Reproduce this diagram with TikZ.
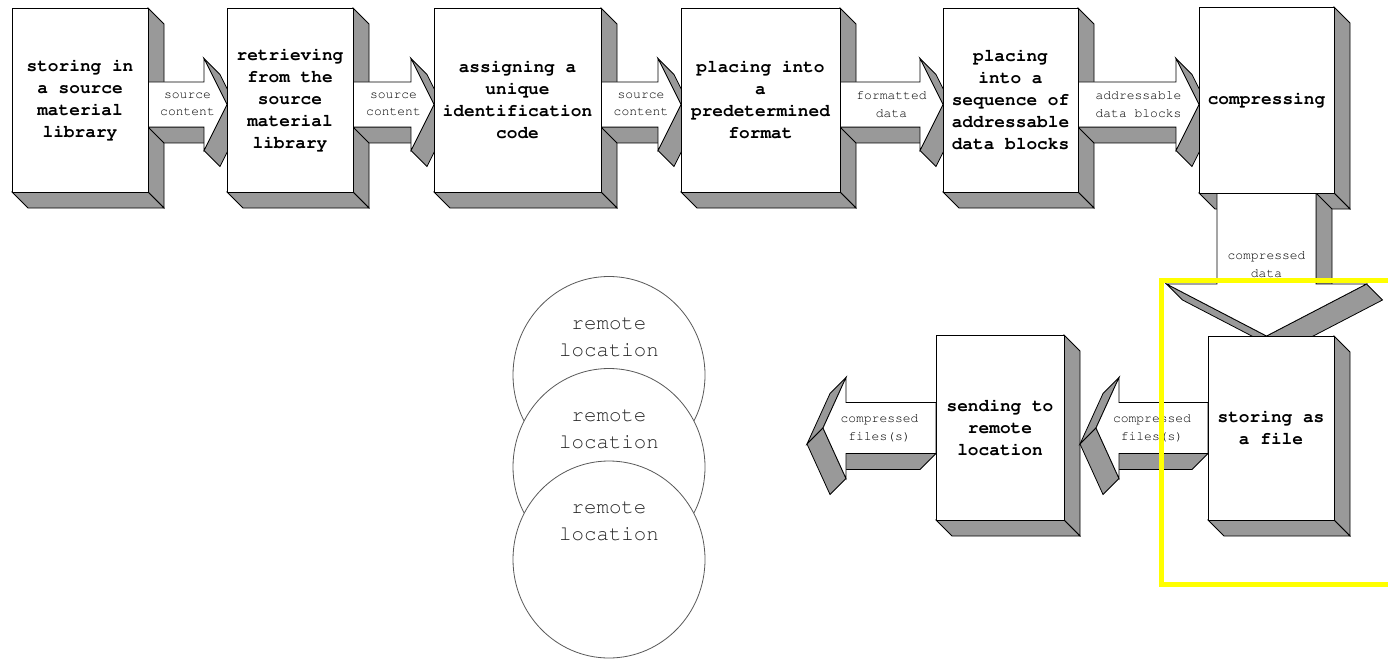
\documentclass[tikz,border=0pt]{standalone}
\usepackage[T1]{fontenc}
\usepackage{courier}
\usetikzlibrary{calc,shapes.geometric}
\definecolor{shd}{RGB}{153,153,153}
\definecolor{ylw}{RGB}{255,255,0}
\pgfdeclarelayer{sides}
\pgfdeclarelayer{arrows}
\pgfsetlayers{sides,arrows,main}
\tikzset{
  face/.style={fill=shd,draw=black,line width=0.8pt,line join=miter},
  front/.style={fill=white,draw=black,line width=0.8pt},
  blk/.style={front,outer sep=0pt,inner sep=2pt,align=center,
    font=\fontsize{17.8}{22}\selectfont\ttfamily\bfseries},
  lbl/.style={align=center,inner sep=0pt,
    font=\fontsize{13}{17.5}\selectfont\ttfamily},
  rloc/.style={draw=black!65,fill=white,line width=0.8pt,ellipse,
    minimum width=192,minimum height=197,inner sep=0pt,outer sep=0pt},
  rtxt/.style={align=center,inner sep=0pt,text=black!85,
    font=\fontsize{20.8}{27}\selectfont\ttfamily},
}
% block with 3D shading: name, cx, cy, w, h, text
\newcommand\blkbox[6]{%
  \node[blk,minimum width=#4,minimum height=#5] (#1) at (#2,#3) {#6};
  \begin{pgfonlayer}{sides}
  \path[face] (#1.north east) -- ++(16,16) -- ($(#1.south east)+(16,16)$) -- (#1.south east) -- cycle;
  \path[face] (#1.south west) -- (#1.south east) -- ++(16,16) -- ($(#1.south west)+(16,16)$) -- cycle;
  \end{pgfonlayer}
}
% right 3D arrow: from node, to node, level coordinate, name, label
\newcommand\rarw[5]{%
  \coordinate (#4s) at (#1.east |- #3);
  \coordinate (#4t) at (#2.west |- #3);
  \coordinate (#4h) at ($(#4t)+(-23,0)$);
  \begin{pgfonlayer}{arrows}
  \path[face] ($(#4s)+(0,\bh)$) -- ($(#4h)+(0,\bh)$) -- ($(#4h)+(16,\bh+16)$) -- ($(#4s)+(16,\bh+16)$) -- cycle;
  \path[face] ($(#4h)+(0,-\hh)$) -- (#4t) -- ($(#4t)+(16,16)$) -- ($(#4h)+(16,-\hh+16)$) -- cycle;
  \path[face] (#4t) -- ($(#4h)+(0,\hh)$) -- ($(#4h)+(16,\hh+16)$) -- ($(#4t)+(16,16)$) -- cycle;
  \path[front] ($(#4s)+(0,-\bh)$) -- ($(#4h)+(0,-\bh)$) -- ($(#4h)+(0,-\hh)$) -- (#4t)
     -- ($(#4h)+(0,\hh)$) -- ($(#4h)+(0,\bh)$) -- ($(#4s)+(0,\bh)$) -- cycle;
  \node[lbl] (#4l) at ($(#4s)!0.5!(#4t)$) {#5};
  \end{pgfonlayer}
}
% left 3D arrow (mirrored): from node, tip coordinate, name, label
\newcommand\larw[4]{%
  \coordinate (#3s) at (#1.west |- #2);
  \coordinate (#3t) at (#2);
  \coordinate (#3h) at ($(#3t)+(23,0)$);
  \begin{pgfonlayer}{arrows}
  \path[face] ($(#3s)+(0,\bh)$) -- ($(#3h)+(0,\bh)$) -- ($(#3h)+(-16,\bh+16)$) -- ($(#3s)+(-16,\bh+16)$) -- cycle;
  \path[face] ($(#3h)+(0,-\hh)$) -- (#3t) -- ($(#3t)+(-16,16)$) -- ($(#3h)+(-16,-\hh+16)$) -- cycle;
  \path[face] (#3t) -- ($(#3h)+(0,\hh)$) -- ($(#3h)+(-16,\hh+16)$) -- ($(#3t)+(-16,16)$) -- cycle;
  \path[front] ($(#3s)+(0,-\bh)$) -- ($(#3h)+(0,-\bh)$) -- ($(#3h)+(0,-\hh)$) -- (#3t)
     -- ($(#3h)+(0,\hh)$) -- ($(#3h)+(0,\bh)$) -- ($(#3s)+(0,\bh)$) -- cycle;
  \node[lbl] (#3l) at ($(#3s)!0.5!(#3t)$) {#4};
  \end{pgfonlayer}
}
\begin{document}
\begin{tikzpicture}[x=1pt,y=-1pt]
\begin{pgfonlayer}{sides}
\fill[white] (0,0) rectangle (1388,663);
\end{pgfonlayer}
\useasboundingbox (0,0) rectangle (1388,663);
\coordinate (rowA) at (0,104.5);
\def\bh{22.5}\def\hh{46}
% top row blocks
\blkbox{b1}{80}{100}{136}{184}{storing in\\a source\\material\\library}
\blkbox{b2}{290}{100}{126}{184}{retrieving\\from the\\source\\material\\library}
\blkbox{b3}{517.5}{100}{167}{184}{assigning a\\unique\\identification\\code}
\blkbox{b4}{760.5}{100}{159}{184}{placing into\\a\\predetermined\\format}
\blkbox{b5}{1010.5}{100}{135}{184}{placing\\into a\\sequence of\\addressable\\data blocks}
\blkbox{b6}{1266.5}{100}{135}{186}{compressing}
% top row arrows
\rarw{b1}{b2}{rowA}{a1}{source\\content}
\rarw{b2}{b3}{rowA}{a2}{source\\content}
\rarw{b3}{b4}{rowA}{a3}{source\\content}
\rarw{b4}{b5}{rowA}{a4}{formatted\\data}
\rarw{b5}{b6}{rowA}{a5}{addressable\\data blocks}
% lower row blocks
\blkbox{stor}{1271}{428}{126}{184}{storing as\\a file}
\blkbox{send}{1000}{427.5}{128}{185}{sending to\\remote\\location}
% down arrow from compressing to storing
\coordinate (ds) at (b6.south);
\coordinate (dt) at (b6.south |- stor.north);
\coordinate (dh) at ($(dt)+(0,-52)$);
\begin{pgfonlayer}{arrows}
\path[face] ($(ds)+(49.5,0)$) -- ($(dh)+(49.5,0)$) -- ($(dh)+(65.5,16)$) -- ($(ds)+(65.5,16)$) -- cycle;
\path[face] ($(dh)+(100,0)$) -- (dt) -- ($(dt)+(16,16)$) -- ($(dh)+(116,16)$) -- cycle;
\path[face] ($(dh)+(-100,0)$) -- (dt) -- ($(dt)+(16,16)$) -- ($(dh)+(-84,16)$) -- cycle;
\path[front] ($(ds)+(-49.5,0)$) -- ($(dh)+(-49.5,0)$) -- ($(dh)+(-100,0)$) -- (dt)
   -- ($(dh)+(100,0)$) -- ($(dh)+(49.5,0)$) -- ($(ds)+(49.5,0)$) -- cycle;
\node[lbl] (dl) at ($(ds)!0.5!(dt)$) {compressed\\data};
\end{pgfonlayer}
% lower row arrows
\def\bh{25.5}\def\hh{50.5}
\coordinate (tipA) at (1096,428);
\coordinate (tipB) at (823,428);
\larw{stor}{tipA}{a6}{compressed\\files(s)}
\larw{send}{tipB}{a7}{compressed\\files(s)}
% remote locations
\node[rloc] (c1) at (609,375) {};
\node[rtxt] (t1) at ([yshift=38pt]c1.center) {remote\\location};
\node[rloc] (c2) at (609,467) {};
\node[rtxt] (t2) at ([yshift=38pt]c2.center) {remote\\location};
\node[rloc] (c3) at (609,559.5) {};
\node[rtxt] (t3) at ([yshift=38pt]c3.center) {remote\\location};
% highlight
\draw[ylw,line width=5pt] (1161.5,280.5) rectangle (1394,584.5);
\end{tikzpicture}
\end{document}
